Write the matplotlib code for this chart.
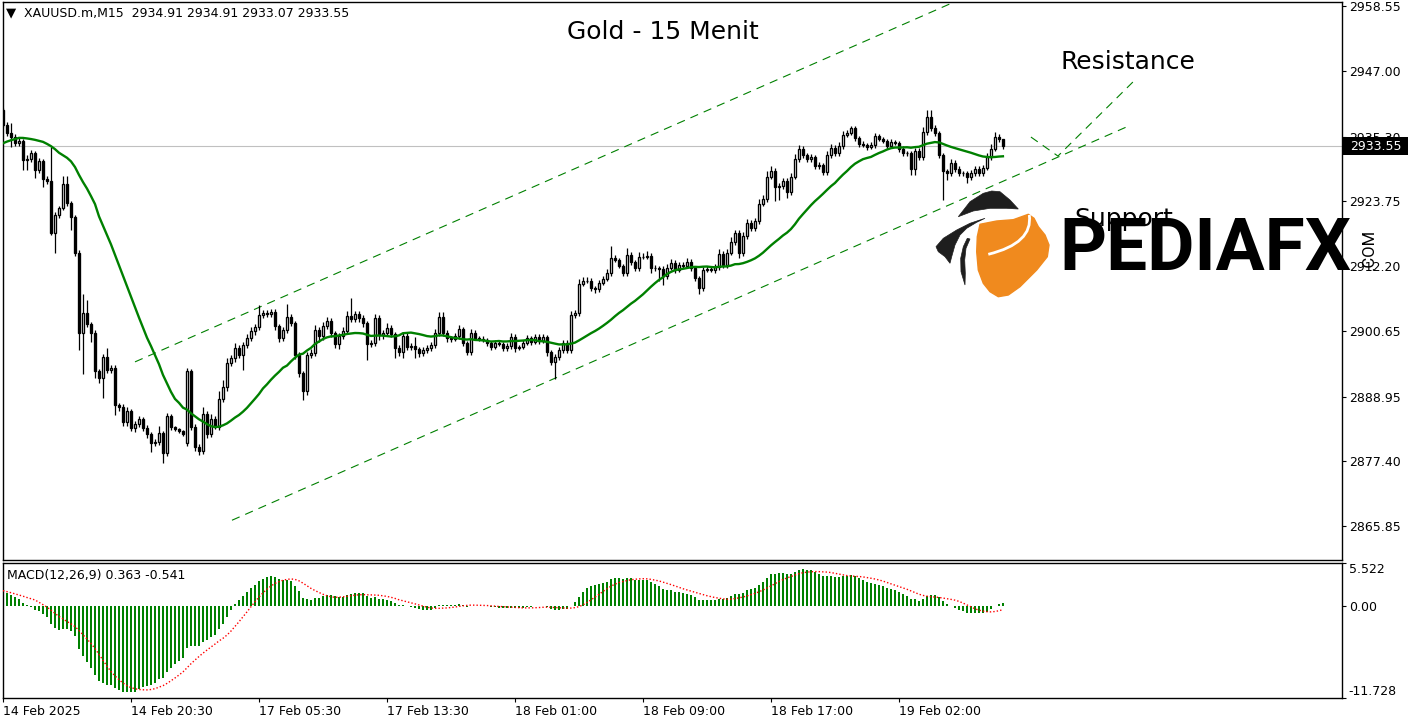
import numpy as np
import pandas as pd
import matplotlib
matplotlib.use("Agg")
import matplotlib.pyplot as plt
from matplotlib.patches import Polygon, PathPatch, Rectangle
from matplotlib.path import Path
import matplotlib.transforms as mtransforms

# ---------------- data ----------------
closes = [
    2937.37, 2935.94, 2935.23, 2934.16, 2934.51, 2931.12, 2931.30, 2932.37, 2929.34, 2930.95,
    2927.74, 2927.38, 2918.10, 2921.31, 2922.56, 2926.84, 2923.46, 2920.96, 2914.54, 2900.27,
    2903.84, 2901.87, 2900.27, 2893.49, 2892.24, 2895.99, 2893.67, 2894.03, 2887.43, 2887.07,
    2884.40, 2886.36, 2883.33, 2884.04, 2884.93, 2883.33, 2882.26, 2880.65, 2880.83, 2882.43,
    2878.87, 2885.47, 2883.50, 2883.15, 2882.79, 2882.26, 2893.49, 2883.50, 2879.94, 2879.22,
    2885.82, 2882.26, 2884.93, 2883.50, 2888.50, 2890.64, 2894.92, 2895.81, 2897.59, 2896.35,
    2898.13, 2899.38, 2900.63, 2901.34, 2903.48, 2903.84, 2903.66, 2904.02, 2901.52, 2899.38,
    2900.80, 2903.12, 2902.05, 2896.35, 2893.14, 2889.93, 2896.35, 2896.70, 2900.80, 2899.73,
    2901.52, 2902.41, 2900.27, 2898.31, 2899.73, 2900.63, 2903.30, 2902.77, 2903.66, 2902.94,
    2902.05, 2898.31, 2898.49, 2902.94, 2899.91, 2900.27, 2901.16, 2900.09, 2897.59, 2896.88,
    2899.73, 2897.77, 2897.95, 2897.42, 2896.70, 2897.24, 2897.59, 2898.13, 2900.27, 2903.12,
    2900.27, 2899.38, 2899.20, 2899.73, 2900.98, 2898.49, 2896.88, 2900.27, 2899.38, 2899.20,
    2899.02, 2898.49, 2897.77, 2898.49, 2898.31, 2897.59, 2897.95, 2899.56, 2897.59, 2897.77,
    2898.49, 2899.38, 2898.66, 2899.56, 2898.84, 2899.56, 2896.88, 2895.10, 2895.99, 2897.24,
    2898.49, 2897.24, 2903.48, 2903.84, 2909.01, 2909.54, 2909.60, 2908.30, 2908.12, 2909.19,
    2909.90, 2910.97, 2913.65, 2913.29, 2912.22, 2910.97, 2914.18, 2912.93, 2911.86, 2913.82,
    2913.90, 2914.00, 2911.86, 2911.80, 2911.68, 2910.44, 2911.86, 2912.75, 2911.51, 2912.40,
    2912.22, 2912.93, 2911.86, 2910.08, 2908.30, 2911.51, 2911.68, 2911.51, 2912.04, 2914.36,
    2912.40, 2914.54, 2916.50, 2918.10, 2914.54, 2917.57, 2919.89, 2919.00, 2920.25, 2923.28,
    2924.17, 2928.09, 2929.16, 2926.31, 2926.49, 2927.38, 2925.42, 2928.09, 2931.30, 2933.09,
    2932.02, 2931.30, 2931.66, 2930.05, 2930.23, 2928.98, 2932.02, 2933.26, 2932.37, 2933.62,
    2935.58, 2935.94, 2936.83, 2935.05, 2933.98, 2933.80, 2933.44, 2933.80, 2935.40, 2934.87,
    2934.51, 2933.62, 2934.33, 2934.16, 2933.09, 2932.37, 2932.30, 2929.52, 2932.73, 2931.66,
    2936.12, 2938.79, 2936.83, 2935.94, 2932.02, 2929.16, 2928.81, 2930.59, 2929.52, 2928.81,
    2928.75, 2928.09, 2928.81, 2929.52, 2928.81, 2929.70, 2931.66, 2933.09, 2935.23, 2934.91,
    2933.55,
]

wick_up = [
    0.4, 0.5, 1.8, 0.6, 0.5, 0.4, 0.7, 0.5, 0.4, 0.5,
    0.4, 0.5, 6.1, 0.5, 0.4, 1.4, 1.4, 0.4, 0.4, 0.5,
    3.4, 2.3, 0.4, 0.5, 0.4, 0.5, 1.6, 0.6, 0.5, 0.4,
    0.5, 0.7, 0.4, 0.6, 0.5, 0.4, 0.5, 0.4, 0.5, 1.3,
    0.4, 0.6, 0.4, 0.3, 0.3, 0.3, 0.5, 0.4, 0.5, 0.6,
    1.2, 0.5, 1.0, 0.5, 1.4, 1.2, 0.9, 0.6, 0.9, 0.5,
    0.6, 0.7, 0.8, 0.5, 1.8, 0.6, 0.5, 0.6, 0.5, 0.4,
    0.6, 2.3, 0.5, 0.4, 0.5, 0.4, 0.6, 0.7, 0.9, 0.5,
    0.7, 0.8, 0.5, 0.4, 0.6, 0.7, 0.9, 3.2, 0.6, 0.5,
    0.5, 0.4, 0.5, 0.8, 0.5, 0.6, 0.9, 0.5, 0.4, 0.5,
    0.7, 0.5, 0.5, 1.6, 0.4, 0.5, 0.6, 0.5, 0.7, 0.9,
    0.9, 0.5, 0.4, 0.5, 0.7, 0.4, 0.4, 0.8, 0.5, 0.4,
    0.5, 0.4, 0.4, 0.5, 0.4, 0.4, 0.5, 0.7, 0.5, 0.4,
    0.6, 0.5, 0.4, 0.6, 0.5, 0.6, 0.4, 0.4, 0.5, 0.6,
    0.6, 0.5, 0.7, 0.5, 0.9, 0.8, 0.6, 0.5, 0.4, 0.5,
    0.6, 0.7, 2.1, 0.5, 0.4, 0.4, 1.2, 0.5, 0.4, 0.9,
    0.6, 1.0, 0.5, 0.5, 0.4, 0.5, 0.7, 0.8, 0.5, 0.6,
    0.6, 0.7, 0.5, 0.4, 0.4, 0.6, 0.5, 0.5, 0.6, 0.9,
    0.5, 0.8, 0.9, 0.6, 0.5, 0.7, 0.8, 0.5, 0.6, 0.9,
    0.8, 1.0, 0.9, 0.6, 0.5, 0.6, 0.5, 0.8, 0.9, 0.8,
    0.5, 0.4, 0.5, 0.4, 0.5, 0.4, 0.8, 0.7, 0.5, 0.7,
    0.8, 0.6, 0.3, 0.4, 0.4, 0.5, 0.4, 0.5, 0.5, 0.4,
    0.4, 0.4, 0.6, 0.4, 0.4, 0.5, 0.4, 0.4, 0.6, 0.5,
    0.9, 1.2, 1.2, 0.5, 0.4, 0.4, 0.4, 0.8, 0.5, 0.5,
    0.4, 0.5, 0.6, 0.6, 0.5, 0.6, 0.7, 0.9, 0.9, 0.6,
    0.0,
]

wick_dn = [
    0.4, 0.5, 1.8, 0.6, 0.5, 1.8, 1.8, 0.5, 1.4, 0.5,
    1.4, 0.5, 0.4, 3.6, 0.5, 0.4, 0.5, 2.3, 0.5, 3.0,
    7.3, 0.5, 1.6, 1.2, 0.9, 3.6, 0.5, 0.5, 1.8, 0.6,
    0.6, 0.6, 0.5, 0.6, 0.5, 0.5, 0.6, 1.6, 0.5, 0.5,
    1.8, 0.5, 0.5, 0.4, 0.4, 0.4, 0.5, 0.5, 0.6, 0.7,
    0.5, 0.6, 0.5, 0.4, 0.5, 0.5, 0.6, 0.5, 0.7, 0.5,
    2.6, 0.5, 0.5, 0.6, 0.5, 0.5, 0.5, 0.5, 0.6, 0.7,
    0.5, 0.5, 0.5, 0.6, 0.7, 1.6, 0.6, 0.5, 0.5, 1.0,
    0.6, 0.5, 0.6, 0.7, 0.9, 0.5, 0.5, 0.5, 0.5, 0.6,
    0.6, 2.8, 0.5, 0.5, 0.8, 0.6, 0.5, 0.5, 1.8, 0.6,
    1.1, 0.5, 0.5, 1.6, 0.6, 0.5, 0.5, 0.5, 0.5, 0.5,
    0.5, 0.6, 0.5, 0.4, 0.5, 0.5, 0.5, 0.5, 0.4, 0.4,
    0.4, 0.5, 0.5, 0.4, 0.4, 0.5, 0.5, 0.5, 0.6, 0.4,
    0.4, 0.4, 0.5, 0.4, 0.5, 0.4, 0.6, 0.5, 3.0, 0.5,
    0.5, 0.5, 0.5, 0.5, 0.5, 0.4, 0.4, 0.6, 0.7, 0.5,
    0.4, 0.4, 0.5, 0.4, 0.4, 0.5, 0.5, 0.5, 0.5, 0.5,
    0.4, 0.4, 0.9, 0.5, 2.1, 1.5, 0.5, 0.4, 0.5, 0.4,
    0.4, 0.4, 0.5, 0.6, 1.1, 0.5, 0.4, 0.4, 0.5, 0.5,
    0.5, 0.5, 0.4, 0.5, 0.9, 0.5, 0.5, 0.6, 0.5, 0.5,
    0.4, 0.5, 0.4, 2.5, 2.3, 0.6, 1.0, 0.5, 0.4, 0.5,
    0.5, 0.6, 0.5, 0.6, 0.5, 0.6, 0.5, 0.5, 0.6, 0.5,
    0.5, 0.4, 0.4, 0.5, 0.5, 0.4, 0.5, 0.4, 0.5, 0.4,
    0.4, 0.5, 0.4, 0.4, 0.5, 0.5, 0.5, 1.1, 1.1, 0.5,
    0.5, 0.5, 0.5, 0.5, 0.5, 5.2, 1.2, 0.5, 0.6, 0.5,
    0.5, 1.1, 0.5, 0.6, 0.5, 0.5, 0.4, 0.5, 0.4, 0.5,
    0.48,
]

first_open = 2940.04          # open of the first visible bar
gap_bar = 46                  # first bar after the weekend gap
gap_open = 2880.65

# moving average (SMA 25) values read for the first bars (history not visible)
ma_period = 25
ma_head = [2934.12, 2934.42, 2934.66, 2934.87, 2935.08, 2935.07, 2934.98, 2934.87,
           2934.73, 2934.55, 2934.37, 2934.01, 2933.60, 2933.07, 2932.43, 2931.98,
           2931.53, 2930.89, 2929.88, 2928.48, 2927.20, 2926.04, 2924.70, 2923.28]

# MACD(12,26,9) starting EMA levels (MACD reads ~ +2 at the first bar)
ema12_start = 2937.3
ema26_start = 2935.2

date_ticks = [0, 32, 64, 96, 128, 160, 192, 224]
date_labels = ["14 Feb 2025", "14 Feb 20:30", "17 Feb 05:30", "17 Feb 13:30",
               "18 Feb 01:00", "18 Feb 09:00", "18 Feb 17:00", "19 Feb 02:00"]
price_ticks = [2958.55, 2947.00, 2935.30, 2923.75, 2912.20, 2900.65, 2888.95, 2877.40, 2865.85]
macd_ticks = [5.522, 0.0, -11.728]
macd_labels = ["5.522", "0.00", "-11.728"]

upper_channel_x = [33.0, 237.25]
upper_channel_y = [2895.15, 2959.12]
lower_channel_x = [57.25, 282.0]
lower_channel_y = [2866.92, 2937.37]
zigzag_x = [257.0, 263.75, 283.25]
zigzag_y = [2935.23, 2931.84, 2945.57]

last_price = 2933.55
header_text = "XAUUSD.m,M15  2934.91 2934.91 2933.07 2933.55"
macd_text = "MACD(12,26,9) 0.363 -0.541"

# ---------------- derived series ----------------
c = np.array(closes)
x = np.arange(len(c))
o = np.concatenate([[first_open], c[:-1]])
o[gap_bar] = gap_open
h = np.maximum(o, c) + np.array(wick_up)
l = np.minimum(o, c) - np.array(wick_dn)

ma = pd.Series(c).rolling(ma_period).mean().values
ma[:len(ma_head)] = ma_head

e12, e26 = ema12_start, ema26_start
macd = []
for p in c:
    e12 += 2.0 / 13.0 * (p - e12)
    e26 += 2.0 / 27.0 * (p - e26)
    macd.append(e12 - e26)
macd = np.array(macd)
signal = pd.Series(macd).rolling(9, min_periods=1).mean().values

# ---------------- figure ----------------
plt.rcParams['font.family'] = ['DejaVu Sans']
W, H = 1413, 725
fig = plt.figure(figsize=(W / 100, H / 100), dpi=100)
fig.patch.set_facecolor('white')

def frac(left, top, right, bottom):
    return [left / W, 1 - bottom / H, (right - left) / W, (bottom - top) / H]

ax = fig.add_axes(frac(2.7, 1.5, 1341.7, 560.3))
axm = fig.add_axes(frac(2.7, 562.7, 1341.7, 697.7), sharex=ax)

GREEN = '#008000'
x_left = -0.075
x_right = 334.7

# candles
ax.vlines(x, l, h, colors='black', linewidth=0.9, zorder=3)
body_h = np.maximum(np.abs(c - o), 0.03)
fills = np.where(c >= o, 'white', 'black')
ax.bar(x, body_h, bottom=np.minimum(o, c), width=0.55, color=fills,
       edgecolor='black', linewidth=0.95, zorder=4)
ax.plot(x, ma, color=GREEN, linewidth=1.7, zorder=5)

# last-price line
ax.axhline(last_price, color='#c0c0c0', linewidth=0.8, zorder=1)

# channel + sketch lines
dash = (0, (7.5, 5.5))
ax.plot(upper_channel_x, upper_channel_y, color=GREEN, lw=0.8, linestyle=dash, zorder=2)
ax.plot(lower_channel_x, lower_channel_y, color=GREEN, lw=0.8, linestyle=dash, zorder=2)
ax.plot(zigzag_x, zigzag_y, color=GREEN, lw=0.8, linestyle=dash, zorder=2)

ax.set_xlim(x_left, x_right)
ax.set_ylim(2859.78, 2959.39)
ax.yaxis.tick_right()
ax.set_yticks(price_ticks)
ax.set_yticklabels([f"{v:.2f}" for v in price_ticks])
ax.tick_params(axis='y', direction='out', length=3, width=0.8, pad=2, labelsize=9)
ax.tick_params(axis='x', bottom=False, labelbottom=False)
for s in ax.spines.values():
    s.set_linewidth(1.0)

# price box (last price marker on the right scale)
trans = mtransforms.blended_transform_factory(ax.transAxes, ax.transData)
box_half = 1.6  # half height of the box in price units
ax.add_patch(Rectangle((1.001, last_price - box_half), 0.0485, 2 * box_half,
                       transform=trans, fc='black', ec='black', lw=0,
                       clip_on=False, zorder=9))
ax.text(1.0255, last_price, f"{last_price:.2f}", transform=trans, ha='center', va='center',
        color='white', fontsize=9, clip_on=False, zorder=10)

# MACD panel
axm.bar(x, macd, width=0.7, color=GREEN, zorder=2)
axm.plot(x, signal, color='red', lw=1.0, linestyle=(0, (1, 1.5)), zorder=3)
axm.set_ylim(-11.728, 5.522)
axm.yaxis.tick_right()
axm.set_yticks(macd_ticks)
axm.set_yticklabels(macd_labels)
axm.tick_params(axis='y', direction='out', length=3, width=0.8, pad=2, labelsize=9)
yl = axm.get_yticklabels()
yl[0].set_va('top')
yl[2].set_va('bottom')
axm.set_xticks(date_ticks)
axm.set_xticklabels(date_labels)
axm.tick_params(axis='x', direction='out', length=3, width=0.8, pad=2, labelsize=9)
for lbl in axm.get_xticklabels():
    lbl.set_ha('left')
for s in axm.spines.values():
    s.set_linewidth(1.0)
axm.set_xlim(x_left, x_right)

# ---------------- overlay (texts, logo) ----------------
ov = fig.add_axes([0, 0, 1, 1])
ov.set_xlim(0, W)
ov.set_ylim(H, 0)
ov.axis('off')
ov.patch.set_alpha(0)

ov.text(6, 13, "\u25bc", fontsize=9.5, va='center', ha='left', color='black')
ov.text(24, 13, header_text, fontsize=9, va='center', ha='left', color='black')
ov.text(7, 575, macd_text, fontsize=9, va='center', ha='left', color='black')

ov.text(663, 32, "Gold - 15 Menit", fontsize=18, ha='center', va='center', color='black')
ov.text(1128, 62, "Resistance", fontsize=18, ha='center', va='center', color='black')
ov.text(1124, 226, "Support", fontsize=18, ha='center', va='baseline', color='black', zorder=1)

# logo
BLACKL = '#1e1e1e'
ORANGE = '#F08A1E'
orange_pts = [(980.0, 224.3), (996.7, 221.0), (1013.3, 219.7), (1028.3, 214.3), (1034.0, 218.3),
              (1038.3, 226.7), (1045.0, 235.0), (1049.0, 245.0), (1047.3, 256.7), (1036.7, 270.0),
              (1020.0, 286.7), (1008.3, 295.0), (998.3, 296.7), (990.0, 291.7), (983.3, 283.3),
              (978.3, 270.0), (976.7, 251.7), (977.3, 236.7)]
ov.add_patch(Polygon(orange_pts, closed=True, fc=ORANGE, ec=ORANGE, lw=1.0,
                     joinstyle='round', zorder=5))
swirl = Path([(1029.3, 215.0), (1033.3, 243.3), (988.3, 254.3)],
             [Path.MOVETO, Path.CURVE3, Path.CURVE3])
ov.add_patch(PathPatch(swirl, fc='none', ec='white', lw=2.0, zorder=6))
cap = [(958.3, 216.7), (970.0, 201.7), (983.3, 193.3), (991.7, 191.0), (1000.0, 191.7),
       (1010.0, 200.0), (1018.3, 209.0), (1006.7, 208.3), (990.0, 208.3), (973.3, 211.0)]
ov.add_patch(Polygon(cap, closed=True, fc=BLACKL, ec=BLACKL, lw=0.5, zorder=6))
wing = [(936.0, 246.7), (943.3, 238.3), (956.7, 230.0), (970.0, 223.3), (985.0, 218.3),
        (976.7, 222.3), (966.7, 228.3), (960.0, 235.0), (955.0, 245.0), (951.7, 256.7),
        (950.0, 263.3), (945.0, 256.7), (938.3, 251.7)]
ov.add_patch(Polygon(wing, closed=True, fc=BLACKL, ec=BLACKL, lw=0.5, zorder=6))
tail = [(967.3, 238.3), (963.3, 246.7), (960.7, 258.3), (961.0, 271.7), (965.0, 285.0),
        (965.3, 273.3), (964.7, 260.0), (966.0, 248.3), (970.0, 239.0)]
ov.add_patch(Polygon(tail, closed=True, fc=BLACKL, ec=BLACKL, lw=0.5, zorder=6))

ov.text(1059, 270, "PEDIAFX", fontsize=52.5, fontfamily='Roboto', fontweight='bold',
        ha='left', va='baseline', color='black', zorder=7)
ov.text(1374, 270, ".COM", fontsize=12, fontfamily='Roboto', rotation=90,
        rotation_mode='anchor', ha='left', va='baseline', color='black', zorder=7)

fig.savefig("out.png", dpi=100)
